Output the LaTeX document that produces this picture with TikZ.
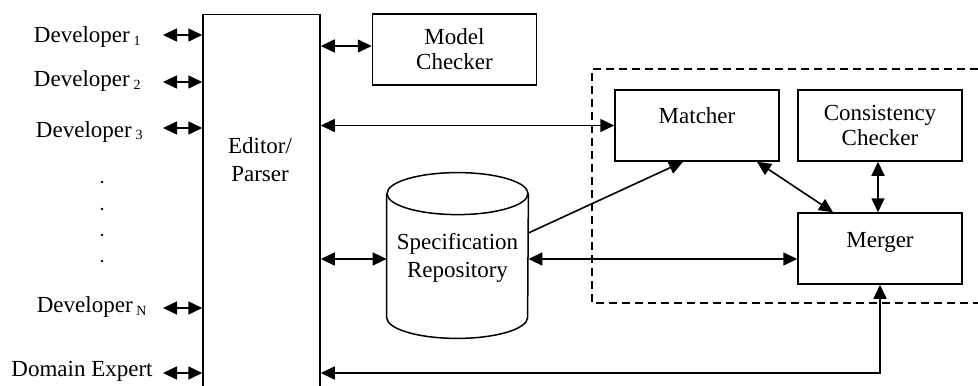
\documentclass[tikz,border=0pt]{standalone}
\usepackage{fontspec}
\setmainfont{Liberation Serif}
\usetikzlibrary{arrows.meta}
\newcommand\devsub[1]{\,{\fontsize{7}{8}\selectfont\raisebox{-1.5pt}{#1}}}
\begin{document}
\begin{tikzpicture}[x=0.5pt,y=-0.5pt,
  every node/.style={font=\fontsize{11.5}{12.5}\selectfont},
  box/.style={draw,line width=0.75pt,inner sep=0,minimum width=82pt,minimum height=35.5pt,align=center},
  tip/.tip={Triangle[length=7pt,width=6.5pt]},
  conn/.style={line width=0.8pt,tip-tip},
  oneway/.style={line width=0.8pt,-tip},
  txt/.style={inner sep=0,align=center},
  dev/.style={inner sep=0,anchor=base east}]
\useasboundingbox (0,0) rectangle (978,385);

% dashed group
\draw[line width=0.6pt,dash pattern=on 4pt off 2.5pt] (978,69) -- (592,69) -- (592,303) -- (978,303);

% boxes
\node[box,minimum width=58.5pt,minimum height=200pt,anchor=north] (editor) at (261.5,14) {};
\node[txt,font=\fontsize{11.5}{14}\selectfont] (editorlbl) at (260,160) {Editor/\\Parser};
\node[box] (model) at (454.5,49.5) {Model\\Checker};
\node[box] (matcher) at (697,125.5) {};
\node[txt,anchor=base] (matcherlbl) at (697,123) {Matcher};
\node[box] (cons) at (880,125.5) {Consistency\\Checker};
\node[box] (merger) at (880,248.5) {};
\node[txt,anchor=base] (mergerlbl) at (880,247) {Merger};

% repository cylinder
\node[inner sep=0,minimum width=70.5pt,minimum height=61.5pt] (repo) at (457.5,255.5) {};
\draw[line width=0.75pt,fill=white] (repo.north west) -- (repo.south west)
  arc[start angle=180,end angle=360,x radius=35.25pt,y radius=10.5pt] -- (repo.north east);
\draw[line width=0.75pt] (repo.north) ellipse [x radius=35.25pt,y radius=10.5pt];
\node[txt,font=\fontsize{11.5}{14}\selectfont] (repolbl) at (457.5,258) {Specification\\Repository};

% developers
\node[dev] (d1) at (141,43) {Developer\devsub{1}};
\node[dev] (d2) at (141,87) {Developer\devsub{2}};
\node[dev] (d3) at (143,137) {Developer\devsub{3}};
\node[dev] (dn) at (147,312) {Developer\devsub{N}};
\node[dev] (dd) at (153,376) {Domain Expert};
\fill (102,182) circle[radius=0.7pt];
\fill (102,209) circle[radius=0.7pt];
\fill (102,235) circle[radius=0.7pt];
\fill (102,261) circle[radius=0.7pt];

\coordinate (a1) at (163,35);
\coordinate (a2) at (163,82);
\coordinate (a3) at (163,128);
\coordinate (an) at (163,308);
\coordinate (ad) at (163,373);
\foreach \c in {a1,a2,a3,an,ad}{\draw[conn] (\c) -- (\c -| editor.west);}

% connectors
\coordinate (y46) at (0,46);
\coordinate (y259) at (0,259);
\coordinate (y233) at (0,233);
\coordinate (y373) at (0,373);
\draw[conn] (editor.east |- y46) -- (model.west |- y46);
\draw[conn] (editor.east |- matcher.west) -- (matcher.west);
\draw[conn] (editor.east |- y259) -- (repo.west |- y259);
\draw[conn] (repo.east |- y259) -- (merger.west |- y259);
\draw[oneway] (repo.east |- y233) -- ([xshift=-7pt]matcher.south);
\draw[conn] ([xshift=30pt]matcher.south) -- ([xshift=-23.5pt]merger.north);
\draw[conn] ([xshift=-1pt]cons.south) -- ([xshift=-1pt]merger.north);
\draw[conn] (editor.east |- y373) -| (merger.south);
\end{tikzpicture}
\end{document}
